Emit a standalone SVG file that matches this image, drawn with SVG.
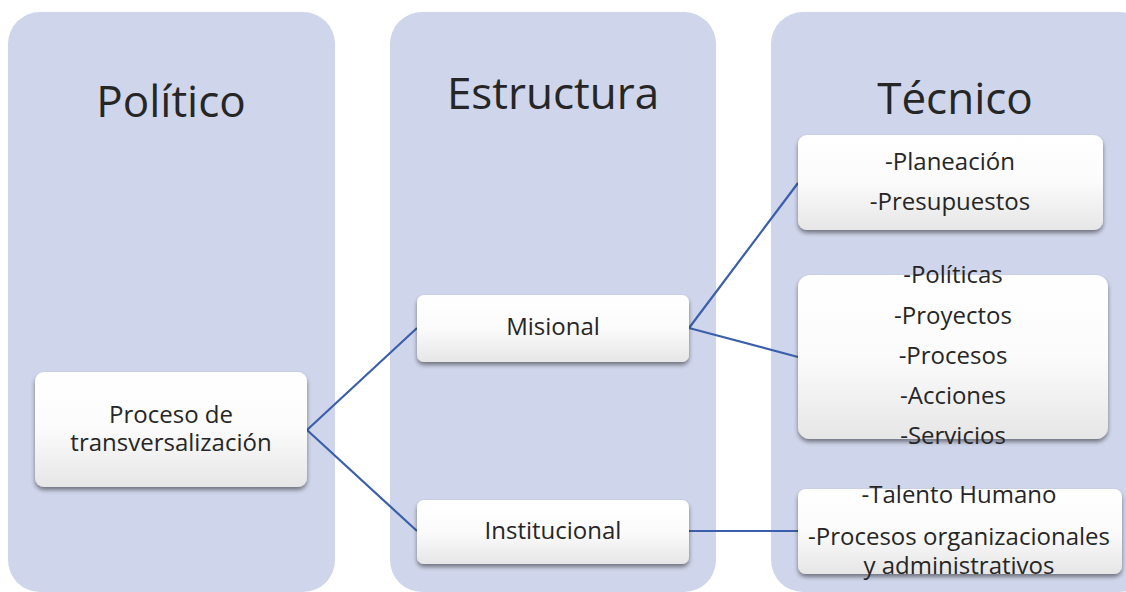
<svg xmlns="http://www.w3.org/2000/svg" width="1126" height="592" viewBox="0 0 1126 592">
<style>
.col{fill:#CFD5EA}
.box{fill:url(#g);filter:url(#sh)}
.t{font-family:"Open Sans","Noto Sans",sans-serif;fill:#262626;text-anchor:middle}
.h{font-size:44px}
.n{font-size:24px}
.c{fill:none;stroke:#3B5FAB;stroke-width:2.2}
</style>
<defs>
<linearGradient id="g" x1="0" y1="0" x2="0" y2="1">
<stop offset="0" stop-color="#FFFFFF"/>
<stop offset="0.5" stop-color="#FBFBFB"/>
<stop offset="1" stop-color="#E6E6E6"/>
</linearGradient>
<filter id="sh" x="-10%" y="-20%" width="120%" height="150%">
<feDropShadow dx="0" dy="3" stdDeviation="2.2" flood-color="#000" flood-opacity="0.45"/>
</filter>
</defs>
<g id="col-politico">
<rect class="col" x="8" y="12" width="327" height="580" rx="32"/>
<text class="t h" x="171" y="117">Político</text>
</g>
<g id="col-estructura">
<rect class="col" x="390" y="12" width="326" height="580" rx="32"/>
<text class="t h" x="553" y="109">Estructura</text>
</g>
<g id="col-tecnico">
<rect class="col" x="771" y="12" width="380" height="580" rx="32"/>
<text class="t h" x="955" y="114">Técnico</text>
</g>
<g id="connectors">
<path class="c" d="M307,430 L417,328 M307,430 L417,531 M689,328 L798,183 M689,328 L798,357 M689,531 L798,531"/>
</g>
<g id="node-proceso">
<rect class="box" x="35" y="372" width="272" height="115" rx="9"/>
<text class="t n" x="171" y="423">Proceso de</text>
<text class="t n" x="171" y="451">transversalización</text>
</g>
<g id="node-misional">
<rect class="box" x="417" y="295" width="272" height="67" rx="7"/>
<text class="t n" x="553" y="335">Misional</text>
</g>
<g id="node-institucional">
<rect class="box" x="417" y="500" width="272" height="64" rx="7"/>
<text class="t n" x="553" y="539">Institucional</text>
</g>
<g id="node-planeacion">
<rect class="box" x="798" y="135" width="305" height="95" rx="9"/>
<text class="t n" x="950" y="170">-Planeación</text>
<text class="t n" x="950" y="210">-Presupuestos</text>
</g>
<g id="node-politicas">
<rect class="box" x="798" y="275" width="310" height="164" rx="12"/>
<text class="t n" x="953" y="283">-Políticas</text>
<text class="t n" x="953" y="324">-Proyectos</text>
<text class="t n" x="953" y="364">-Procesos</text>
<text class="t n" x="953" y="404">-Acciones</text>
<text class="t n" x="953" y="444">-Servicios</text>
</g>
<g id="node-talento">
<rect class="box" x="798" y="489" width="324" height="85" rx="8"/>
<text class="t n" x="959" y="503">-Talento Humano</text>
<text class="t n" x="959" y="545">-Procesos organizacionales</text>
<text class="t n" x="959" y="574">y administrativos</text>
</g>
</svg>
